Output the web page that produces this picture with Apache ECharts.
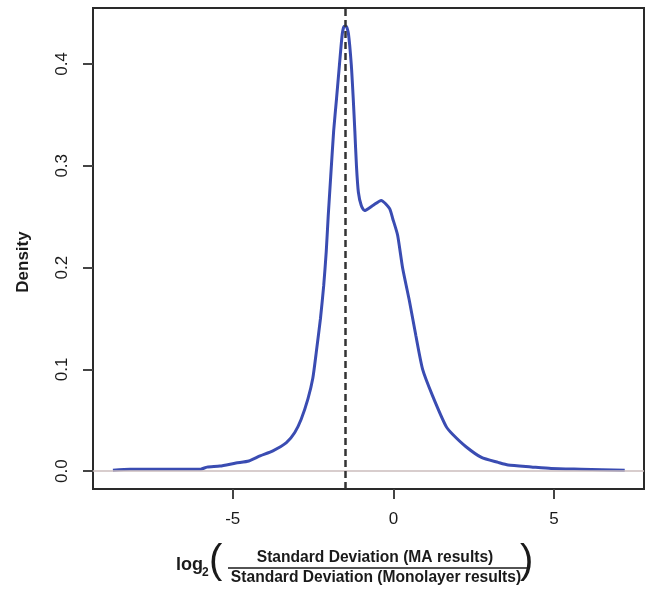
<!DOCTYPE html>
<html>
<head>
<meta charset="utf-8">
<script src="https://cdn.jsdelivr.net/npm/echarts@6/dist/echarts.min.js"></script>
<style>
html,body{margin:0;padding:0;background:#fff;}
#chart{width:649px;height:589px;}
</style>
</head>
<body>
<div id="chart"></div>
<script>
// log2 ratio (x) and estimated density (y)
const xValues = [-8.73,-8.2,-7.0,-6.0,-5.8,-5.4,-4.9,-4.5,-4.15,-3.75,-3.33,-3.07,-2.87,-2.66,-2.51,-2.40,-2.27,-2.17,-2.09,-2.03,-1.95,-1.86,-1.77,-1.68,-1.59,-1.53,-1.47,-1.40,-1.31,-1.25,-1.20,-1.15,-1.09,-1.00,-0.90,-0.64,-0.38,-0.12,-0.02,0.13,0.29,0.50,0.70,0.91,1.22,1.64,1.85,2.26,2.74,3.26,3.57,4.29,4.91,5.84,7.2];
const densityValues = [0.001,0.002,0.002,0.002,0.004,0.005,0.008,0.010,0.015,0.020,0.028,0.038,0.051,0.071,0.091,0.117,0.150,0.182,0.216,0.250,0.290,0.334,0.366,0.399,0.430,0.437,0.437,0.430,0.399,0.366,0.334,0.300,0.274,0.261,0.256,0.261,0.266,0.258,0.248,0.232,0.199,0.167,0.133,0.100,0.074,0.044,0.036,0.024,0.0135,0.0086,0.006,0.0042,0.0027,0.002,0.001];
const xTicks = [-5, 0, 5];
const yTicks = [0, 0.1, 0.2, 0.3, 0.4];
const modeX = -1.5;
const xTitleNumerator = 'Standard Deviation (MA results)';
const xTitleDenominator = 'Standard Deviation (Monolayer results)';
const yTitle = 'Density';

const points = xValues.map((x, i) => [x, densityValues[i]]);
const chart = echarts.init(document.getElementById('chart'), null, {renderer: 'canvas'});
const FONT = 'Liberation Sans, Arial, sans-serif';
const NARROW = 'Liberation Sans Narrow, Liberation Sans, Arial, sans-serif';

chart.setOption({
  animation: false,
  backgroundColor: '#fff',
  grid: {left: 93, right: 5, top: 8, bottom: 100, show: true, borderColor: '#2a2a2a', borderWidth: 2, backgroundColor: 'transparent'},
  xAxis: {
    type: 'value', min: -9.35, max: 7.8,
    axisLine: {show: false, onZero: false},
    axisTick: {show: true, inside: false, length: 10, lineStyle: {color: '#444', width: 2}, customValues: xTicks},
    axisLabel: {customValues: xTicks, margin: 22, fontSize: 17, color: '#1a1a1a', fontFamily: FONT, formatter: v => String(v)},
    splitLine: {show: false}
  },
  yAxis: {
    type: 'value', min: -0.0175, max: 0.455,
    axisLine: {show: false, onZero: false},
    axisTick: {show: true, inside: false, length: 10, lineStyle: {color: '#444', width: 2}, customValues: yTicks},
    axisLabel: {customValues: yTicks, rotate: 90, margin: 22, fontSize: 17, color: '#1a1a1a', fontFamily: FONT, formatter: v => v.toFixed(1)},
    splitLine: {show: false}
  },
  series: [{
    type: 'line',
    data: points,
    showSymbol: false,
    smooth: 0.2,
    lineStyle: {color: '#3a4cb2', width: 3},
    z: 3,
    markLine: {
      silent: true,
      symbol: 'none',
      label: {show: false},
      data: [
        {yAxis: 0, lineStyle: {color: '#cbbcbc', width: 1.5, type: 'solid'}},
        {xAxis: modeX, lineStyle: {color: '#333', width: 2.5, type: [7, 4]}}
      ]
    }
  }],
  graphic: [
    {type: 'text', x: 23, y: 262, rotation: Math.PI/2,
     style: {text: yTitle, font: 'bold 17px ' + FONT, fill: '#1a1a1a', align: 'center', verticalAlign: 'middle'}},
    {type: 'text', x: 176, y: 556, style: {text: 'log', font: 'bold 18px ' + FONT, fill: '#1a1a1a'}},
    {type: 'text', x: 202, y: 567, style: {text: '2', font: 'bold 12px ' + FONT, fill: '#1a1a1a'}},
    {type: 'text', x: 209, y: 542, style: {text: '(', font: '40px ' + NARROW, fill: '#1a1a1a'}},
    {type: 'text', x: 375, y: 558, style: {text: xTitleNumerator, font: 'bold 15.6px ' + NARROW, fill: '#1a1a1a', align: 'center', verticalAlign: 'middle'}},
    {type: 'line', shape: {x1: 228, y1: 568, x2: 530, y2: 568}, style: {stroke: '#1a1a1a', lineWidth: 1.5}},
    {type: 'text', x: 376, y: 578, style: {text: xTitleDenominator, font: 'bold 15.6px ' + NARROW, fill: '#1a1a1a', align: 'center', verticalAlign: 'middle'}},
    {type: 'text', x: 520, y: 542, style: {text: ')', font: '40px ' + NARROW, fill: '#1a1a1a'}}
  ]
});
</script>
</body>
</html>
